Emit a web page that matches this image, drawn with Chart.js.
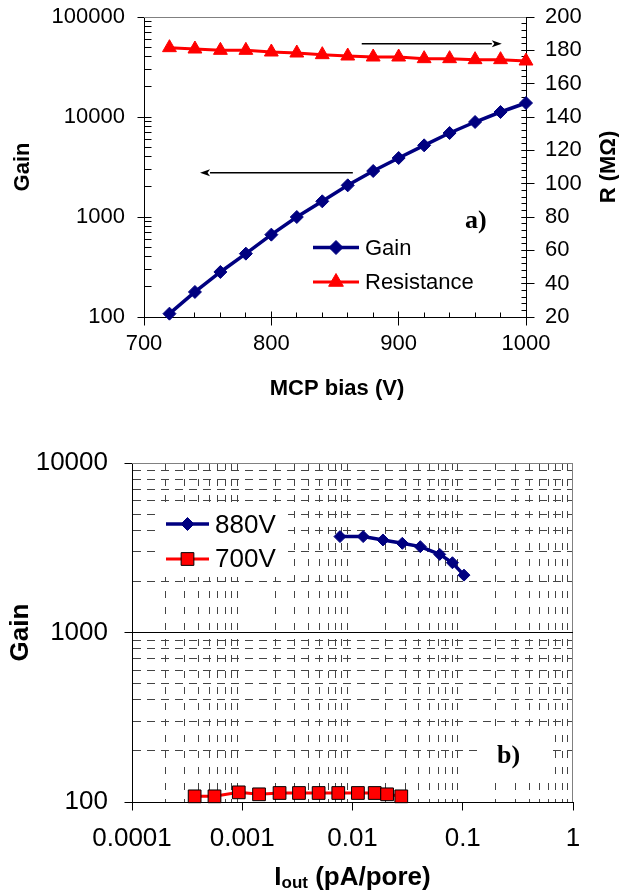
<!DOCTYPE html>
<html>
<head>
<meta charset="utf-8">
<title>MCP gain</title>
<script src="https://cdn.jsdelivr.net/npm/chart.js@4.4.1/dist/chart.umd.min.js"></script>
<style>
  html, body { margin: 0; padding: 0; background: #fff; }
  #page { position: relative; width: 619px; height: 890px; overflow: hidden; background: #fff; }
  canvas { position: absolute; left: 0; }
  #gainBias { top: 0; }
  #gainCurrent { top: 420px; }
</style>
</head>
<body>
<div id="page">
  <canvas id="gainBias" width="619" height="420"></canvas>
  <canvas id="gainCurrent" width="619" height="470"></canvas>
</div>
<script>
// ---------- panel a: gain and resistance versus MCP bias ----------
const biasVolts = [720, 740, 760, 780, 800, 820, 840, 860, 880, 900, 920, 940, 960, 980, 1000];
const gainValues = [108, 178, 282, 430, 666, 1000, 1435, 2073, 2884, 3890, 5208, 6918, 8913, 11220, 13800];
const resistanceValues = [181.6, 180.8, 180, 180, 179, 178.4, 177.4, 176.6, 176, 176, 175, 175, 174.4, 174.4, 173.6];
const biasTicks = [700, 800, 900, 1000];
const biasLabels = ['700', '800', '900', '1000'];
const gainDecadesA = [100, 1000, 10000, 100000];
const gainLabelsA = ['100', '1000', '10000', '100000'];
const resistanceTicks = [20, 40, 60, 80, 100, 120, 140, 160, 180, 200];
const resistanceLabels = ['20', '40', '60', '80', '100', '120', '140', '160', '180', '200'];

// ---------- panel b: gain versus output current per pore ----------
const current880 = [0.0077, 0.0125, 0.0189, 0.0283, 0.0412, 0.0618, 0.0806, 0.1026];
const gain880 = [3680, 3680, 3515, 3360, 3210, 2890, 2580, 2180];
const current700 = [0.00037, 0.00056, 0.00093, 0.00142, 0.00218, 0.00327, 0.00493, 0.00743, 0.0112, 0.0159, 0.0206, 0.0277];
const gain700 = [108, 108, 114, 111, 113, 113, 113, 113, 113, 113, 111, 108];
const currentDecades = [0.0001, 0.001, 0.01, 0.1, 1];
const currentLabels = ['0.0001', '0.001', '0.01', '0.1', '1'];
const gainDecadesB = [100, 1000, 10000];
const gainLabelsB = ['100', '1000', '10000'];

const SANS = "'Liberation Sans', Arial, Helvetica, sans-serif";
const SERIF = "'Liberation Serif', 'Times New Roman', serif";
const NAVY = '#000080';
const RED = '#ff0000';
const GRID = '#444';

Chart.defaults.font.family = SANS;
Chart.defaults.color = '#000';

// 1..9 x each decade, closing with the last decade
function logSteps(decades) {
  const out = [];
  for (let i = 0; i < decades.length - 1; i++) {
    for (let k = 1; k <= 9; k++) out.push(Number((decades[i] * k).toPrecision(6)));
  }
  out.push(decades[decades.length - 1]);
  return out;
}
function linearSteps(min, max, step) {
  const out = [];
  for (let v = min; v <= max + step * 1e-6; v += step) out.push(Number(v.toPrecision(8)));
  return out;
}
function labelFrom(values, labels) {
  return (v) => {
    const i = values.findIndex(d => Math.abs(d - v) <= Math.abs(d) * 1e-6);
    return i < 0 ? '' : labels[i];
  };
}
function isDecade(v) {
  if (!(v > 0)) return false;
  const l = Math.log10(v);
  return Math.abs(l - Math.round(l)) < 1e-6;
}
function toPoints(xs, ys) {
  return xs.map((x, i) => ({ x, y: ys[i] }));
}
// fixed box size for a scale; edge labels may overhang without shrinking the plot
function fixedSize(size) {
  return (s) => {
    if (s.isHorizontal()) s.height = size; else s.width = size;
    s.paddingTop = 0; s.paddingBottom = 0; s.paddingLeft = 0; s.paddingRight = 0;
  };
}

// small tick marks drawn along the axes (inside / outside lengths per set)
const axisMarks = {
  id: 'axisMarks',
  beforeDatasetsDraw(chart, args, opts) {
    const ctx = chart.ctx;
    ctx.save();
    ctx.strokeStyle = '#000';
    ctx.lineWidth = 1;
    for (const set of (opts.sets || [])) {
      const s = chart.scales[set.scale];
      ctx.beginPath();
      for (const v of set.values) {
        const p = Math.round(s.getPixelForValue(v) - 0.5) + 0.5;
        if (s.isHorizontal()) {
          const y0 = Math.round(s.top) + 0.5;
          ctx.moveTo(p, y0 - set.inner);
          ctx.lineTo(p, y0 + set.outer);
        } else if (s.position === 'left') {
          const x0 = Math.round(s.right) + 0.5;
          ctx.moveTo(x0 - set.outer, p);
          ctx.lineTo(x0 + set.inner, p);
        } else {
          const x0 = Math.round(s.left) + 0.5;
          ctx.moveTo(x0 - set.inner, p);
          ctx.lineTo(x0 + set.outer, p);
        }
      }
      ctx.stroke();
    }
    ctx.restore();
  }
};

// plot frame edges and solid reference lines
const frame = {
  id: 'frame',
  beforeDatasetsDraw(chart, args, opts) {
    const { left, right, top, bottom } = chart.chartArea;
    const ctx = chart.ctx;
    ctx.save();
    ctx.lineWidth = 1;
    ctx.strokeStyle = opts.edgeColor || '#808080';
    ctx.beginPath();
    if (opts.top) { ctx.moveTo(left, top + 0.5); ctx.lineTo(right, top + 0.5); }
    if (opts.right) { ctx.moveTo(right - 0.5, top); ctx.lineTo(right - 0.5, bottom); }
    ctx.stroke();
    for (const line of (opts.solid || [])) {
      const s = chart.scales[line.scale];
      const p = Math.round(s.getPixelForValue(line.value) - 0.5) + 0.5;
      ctx.strokeStyle = line.color || '#000';
      ctx.beginPath();
      ctx.moveTo(left, p);
      ctx.lineTo(right, p);
      ctx.stroke();
    }
    ctx.restore();
  }
};

// pointer arrows placed in data coordinates
const arrows = {
  id: 'arrows',
  afterDatasetsDraw(chart, args, opts) {
    const ctx = chart.ctx;
    ctx.save();
    ctx.strokeStyle = '#000';
    ctx.fillStyle = '#000';
    ctx.lineWidth = 1.5;
    for (const a of (opts.items || [])) {
      const sx = chart.scales[a.xScale], sy = chart.scales[a.yScale];
      const x1 = sx.getPixelForValue(a.from[0]), y1 = sy.getPixelForValue(a.from[1]);
      const x2 = sx.getPixelForValue(a.to[0]), y2 = sy.getPixelForValue(a.to[1]);
      const ang = Math.atan2(y2 - y1, x2 - x1);
      const len = 10, half = 3.5;
      const bx = x2 - Math.cos(ang) * len, by = y2 - Math.sin(ang) * len;
      ctx.beginPath();
      ctx.moveTo(x1, y1);
      ctx.lineTo(bx, by);
      ctx.stroke();
      ctx.beginPath();
      ctx.moveTo(x2, y2);
      ctx.lineTo(bx - Math.sin(ang) * half, by + Math.cos(ang) * half);
      ctx.lineTo(bx + Math.cos(ang) * 2.5, by + Math.sin(ang) * 2.5);
      ctx.lineTo(bx + Math.sin(ang) * half, by - Math.cos(ang) * half);
      ctx.closePath();
      ctx.fill();
    }
    ctx.restore();
  }
};

function drawMarker(ctx, ds, x, y, radius) {
  const o = { pointStyle: ds.pointStyle, rotation: 0, radius, borderWidth: ds.pointBorderWidth };
  ctx.fillStyle = ds.pointBackgroundColor;
  ctx.strokeStyle = ds.pointBorderColor;
  ctx.lineWidth = ds.pointBorderWidth;
  if (Chart.helpers && Chart.helpers.drawPoint) {
    Chart.helpers.drawPoint(ctx, o, x, y);
    return;
  }
  ctx.beginPath();
  if (ds.pointStyle === 'rectRot') {
    ctx.moveTo(x - radius, y); ctx.lineTo(x, y - radius); ctx.lineTo(x + radius, y); ctx.lineTo(x, y + radius);
  } else if (ds.pointStyle === 'triangle') {
    ctx.moveTo(x, y - radius);
    ctx.lineTo(x + Math.sin(2.094) * radius, y - Math.cos(2.094) * radius);
    ctx.lineTo(x - Math.sin(2.094) * radius, y - Math.cos(2.094) * radius);
  } else {
    const h = Math.SQRT1_2 * radius;
    ctx.rect(x - h, y - h, 2 * h, 2 * h);
  }
  ctx.closePath();
  ctx.fill();
  if (ds.pointBorderWidth) ctx.stroke();
}

// series key drawn from the dataset styles
const keyBox = {
  id: 'keyBox',
  afterDraw(chart, args, opts) {
    const ctx = chart.ctx;
    ctx.save();
    if (opts.box) {
      ctx.fillStyle = '#fff';
      ctx.fillRect(opts.box[0], opts.box[1], opts.box[2], opts.box[3]);
    }
    const [lx0, lx1] = opts.lineX;
    chart.data.datasets.forEach((ds, i) => {
      const row = opts.rows[i];
      ctx.strokeStyle = ds.borderColor;
      ctx.lineWidth = ds.borderWidth;
      ctx.beginPath();
      ctx.moveTo(lx0, row.y);
      ctx.lineTo(lx1, row.y);
      ctx.stroke();
      drawMarker(ctx, ds, (lx0 + lx1) / 2, row.y, opts.markerRadius[i]);
      ctx.fillStyle = '#000';
      ctx.font = opts.textFont;
      ctx.textAlign = 'left';
      ctx.textBaseline = 'alphabetic';
      ctx.fillText(ds.label, opts.textX, row.base);
    });
    ctx.restore();
  }
};

// axis titles and panel letters (supports subscripts via parts)
const captions = {
  id: 'captions',
  afterDraw(chart, args, opts) {
    const ctx = chart.ctx;
    for (const item of (opts.items || [])) {
      ctx.save();
      if (item.box) {
        ctx.fillStyle = '#fff';
        ctx.fillRect(item.box[0], item.box[1], item.box[2], item.box[3]);
      }
      ctx.translate(item.x, item.y);
      if (item.rotate) ctx.rotate(item.rotate * Math.PI / 180);
      ctx.fillStyle = '#000';
      ctx.textAlign = 'left';
      ctx.textBaseline = 'alphabetic';
      let total = 0;
      const widths = item.parts.map(p => {
        ctx.font = p.font;
        const w = ctx.measureText(p.text).width;
        total += w;
        return w;
      });
      let x = item.align === 'left' ? 0 : -total / 2;
      item.parts.forEach((p, i) => {
        ctx.font = p.font;
        ctx.fillText(p.text, x, p.dy || 0);
        x += widths[i];
      });
      ctx.restore();
    }
  }
};

const quiet = { legend: { display: false }, tooltip: { enabled: false } };

// ---------------- panel a ----------------
new Chart(document.getElementById('gainBias'), {
  type: 'line',
  data: {
    datasets: [
      {
        label: 'Gain',
        data: toPoints(biasVolts, gainValues),
        yAxisID: 'yGain',
        borderColor: NAVY,
        backgroundColor: NAVY,
        borderWidth: 3.5,
        pointStyle: 'rectRot',
        pointRadius: 6.5,
        pointBorderWidth: 1,
        pointBackgroundColor: NAVY,
        pointBorderColor: NAVY,
        tension: 0,
        clip: false
      },
      {
        label: 'Resistance',
        data: toPoints(biasVolts, resistanceValues),
        yAxisID: 'yR',
        borderColor: RED,
        backgroundColor: RED,
        borderWidth: 3,
        pointStyle: 'triangle',
        pointRadius: 8,
        pointBorderWidth: 1,
        pointBackgroundColor: RED,
        pointBorderColor: RED,
        tension: 0,
        clip: false
      }
    ]
  },
  options: {
    responsive: false,
    animation: false,
    events: [],
    layout: { padding: { top: 17, left: 0, right: 0, bottom: 0 } },
    scales: {
      x: {
        type: 'linear', position: 'bottom', min: 700, max: 1000,
        afterBuildTicks: s => { s.ticks = biasTicks.map(v => ({ value: v })); },
        afterFit: fixedSize(103),
        grid: { display: false, drawTicks: false },
        border: { display: true, color: '#000', width: 1 },
        ticks: { font: { size: 22 }, padding: 14, autoSkip: false, maxRotation: 0, minRotation: 0,
                 callback: labelFrom(biasTicks, biasLabels) }
      },
      yGain: {
        type: 'logarithmic', position: 'left', min: 100, max: 100000,
        afterBuildTicks: s => { s.ticks = logSteps(gainDecadesA).map(v => ({ value: v })); },
        afterFit: fixedSize(144),
        grid: { display: false, drawTicks: false },
        border: { display: true, color: '#000', width: 1 },
        ticks: { font: { size: 22 }, padding: 19, autoSkip: false,
                 callback: labelFrom(gainDecadesA, gainLabelsA) }
      },
      yR: {
        type: 'linear', position: 'right', min: 20, max: 200,
        afterBuildTicks: s => { s.ticks = resistanceTicks.map(v => ({ value: v })); },
        afterFit: fixedSize(93),
        grid: { display: false, drawTicks: false },
        border: { display: true, color: '#000', width: 1 },
        ticks: { font: { size: 22 }, padding: 19, autoSkip: false,
                 callback: labelFrom(resistanceTicks, resistanceLabels) }
      }
    },
    plugins: {
      ...quiet,
      axisMarks: {
        sets: [
          { scale: 'x', values: linearSteps(720, 980, 20), inner: 5, outer: 0 },
          { scale: 'x', values: biasTicks, inner: 6, outer: 8 },
          { scale: 'yGain', values: logSteps(gainDecadesA).filter(v => !isDecade(v)), inner: 7, outer: 0 },
          { scale: 'yGain', values: gainDecadesA, inner: 7, outer: 7 },
          { scale: 'yR', values: linearSteps(20, 200, 4), inner: 5, outer: 0 },
          { scale: 'yR', values: resistanceTicks, inner: 5, outer: 8 }
        ]
      },
      frame: { top: true, right: false, edgeColor: '#808080' },
      arrows: {
        items: [
          { xScale: 'x', yScale: 'yGain', from: [864, 2770], to: [744, 2770] },
          { xScale: 'x', yScale: 'yR', from: [871, 184], to: [981, 184] }
        ]
      },
      keyBox: {
        lineX: [313, 359],
        rows: [{ y: 247.5, base: 255 }, { y: 282, base: 289 }],
        markerRadius: [7, 8.5],
        textX: 365,
        textFont: '22px ' + SANS
      },
      captions: {
        items: [
          { parts: [{ text: 'Gain', font: 'bold 22px ' + SANS }], x: 29, y: 167, rotate: -90 },
          { parts: [{ text: 'R (MΩ)', font: 'bold 22px ' + SANS }], x: 615, y: 167, rotate: -90 },
          { parts: [{ text: 'MCP bias (V)', font: 'bold 22px ' + SANS }], x: 337, y: 395 },
          { parts: [{ text: 'a)', font: 'bold 26px ' + SERIF }], x: 465, y: 228, align: 'left' }
        ]
      }
    }
  },
  plugins: [axisMarks, frame, arrows, keyBox, captions]
});

// ---------------- panel b ----------------
new Chart(document.getElementById('gainCurrent'), {
  type: 'line',
  data: {
    datasets: [
      {
        label: '880V',
        data: toPoints(current880, gain880),
        borderColor: NAVY,
        backgroundColor: NAVY,
        borderWidth: 3.5,
        pointStyle: 'rectRot',
        pointRadius: 6,
        pointBorderWidth: 1,
        pointBackgroundColor: NAVY,
        pointBorderColor: NAVY,
        tension: 0,
        clip: false
      },
      {
        label: '700V',
        data: toPoints(current700, gain700),
        borderColor: RED,
        backgroundColor: RED,
        borderWidth: 3,
        pointStyle: 'rect',
        pointRadius: 9,
        pointBorderWidth: 1,
        pointBackgroundColor: RED,
        pointBorderColor: '#000',
        tension: 0,
        clip: false
      }
    ]
  },
  options: {
    responsive: false,
    animation: false,
    events: [],
    layout: { padding: { top: 43, left: 0, right: 46, bottom: 0 } },
    scales: {
      x: {
        type: 'logarithmic', position: 'bottom', min: 0.0001, max: 1,
        afterBuildTicks: s => { s.ticks = logSteps(currentDecades).map(v => ({ value: v })); },
        afterFit: fixedSize(88),
        grid: { drawTicks: false, lineWidth: 1,
                color: c => (c.tick && isDecade(c.tick.value)) ? 'rgba(0,0,0,0)' : GRID },
        border: { display: true, color: '#000', width: 1, dash: [7, 9] },
        ticks: { font: { size: 26 }, padding: 21, autoSkip: false, maxRotation: 0, minRotation: 0,
                 callback: labelFrom(currentDecades, currentLabels) }
      },
      y: {
        type: 'logarithmic', position: 'left', min: 100, max: 10000,
        afterBuildTicks: s => { s.ticks = logSteps(gainDecadesB).map(v => ({ value: v })); },
        afterFit: fixedSize(132),
        grid: { drawTicks: false, lineWidth: 1,
                color: c => (c.tick && isDecade(c.tick.value)) ? 'rgba(0,0,0,0)' : GRID },
        border: { display: true, color: '#000', width: 1, dash: [8, 6] },
        ticks: { font: { size: 26 }, padding: 24, autoSkip: false,
                 callback: labelFrom(gainDecadesB, gainLabelsB) }
      }
    },
    plugins: {
      ...quiet,
      axisMarks: {
        sets: [
          { scale: 'x', values: currentDecades, inner: 0, outer: 8 },
          { scale: 'y', values: gainDecadesB, inner: 0, outer: 8 }
        ]
      },
      frame: { top: true, right: true, edgeColor: '#808080', solid: [{ scale: 'y', value: 1000, color: '#000' }] },
      keyBox: {
        box: [155, 85, 133, 72],
        lineX: [166, 209],
        rows: [{ y: 104, base: 113 }, { y: 139, base: 147 }],
        markerRadius: [6.5, 9],
        textX: 215,
        textFont: '26px ' + SANS
      },
      captions: {
        items: [
          { parts: [{ text: 'Gain', font: 'bold 26px ' + SANS }], x: 27.5, y: 212.5, rotate: -90 },
          { parts: [
              { text: 'I', font: 'bold 26px ' + SANS },
              { text: 'out', font: 'bold 17px ' + SANS, dy: 3 },
              { text: ' (pA/pore)', font: 'bold 26px ' + SANS }
            ], x: 352.5, y: 465 },
          { parts: [{ text: 'b)', font: 'bold 26px ' + SERIF }], x: 497, y: 343, align: 'left',
            box: [477, 307, 76, 51] }
        ]
      }
    }
  },
  plugins: [axisMarks, frame, keyBox, captions]
});
</script>
</body>
</html>
